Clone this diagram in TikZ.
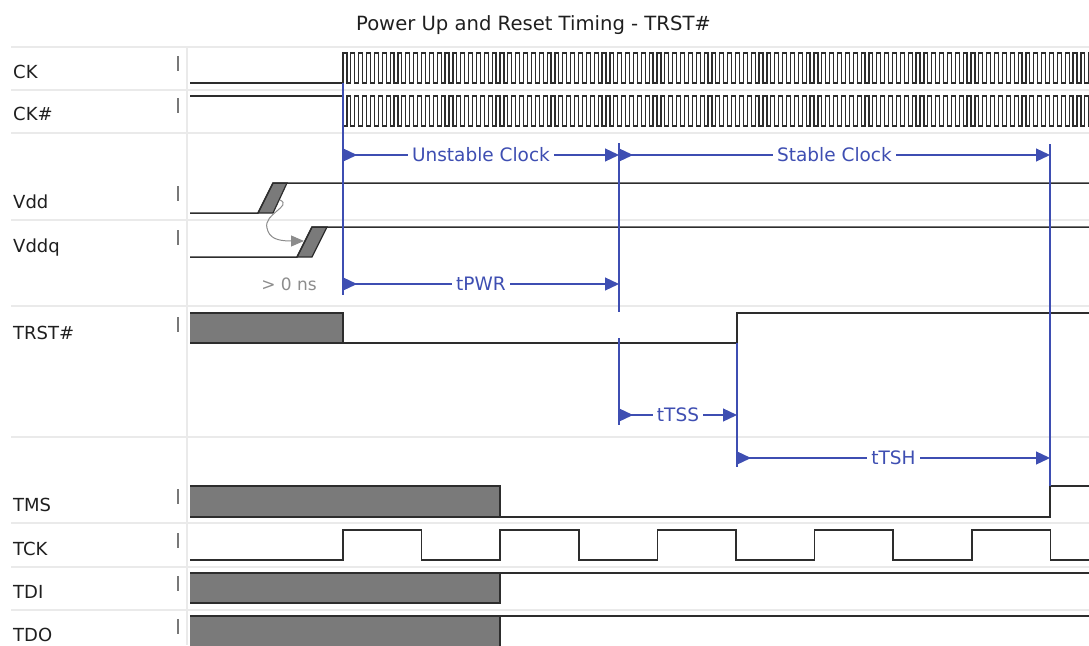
\documentclass[tikz,border=0pt]{standalone}
\usepackage{fontspec}
\setmainfont{DejaVu Sans}
\usetikzlibrary{arrows.meta}
\definecolor{blueA}{RGB}{62,78,178}
\definecolor{sig}{RGB}{45,45,45}
\definecolor{boxg}{RGB}{122,122,122}
\definecolor{gridc}{RGB}{234,234,234}
\definecolor{tickc}{RGB}{120,120,120}
\definecolor{annog}{RGB}{140,140,140}
\begin{document}
\begin{tikzpicture}[x=1pt,y=-1pt,
  sigline/.style={draw=sig,line width=1.5pt},
  clkline/.style={draw=sig,line width=1.2pt},
  edgeline/.style={draw=sig,line width=1.2pt},
  busbox/.style={fill=boxg},
  gridline/.style={draw=gridc,line width=1.6pt},
  tickmark/.style={draw=tickc,line width=1.4pt},
  lbl/.style={anchor=base west,font=\fontsize{18}{20}\selectfont,text=black!88,inner sep=0pt},
  guide/.style={draw=blueA,line width=1.2pt},
  dimarrow/.style={draw=blueA,line width=1.2pt,{Triangle[reversed,length=14pt,width=13pt]}-{Triangle[length=14pt,width=13pt]}},
  dimtext/.style={fill=white,text=blueA,inner xsep=4pt,inner ysep=1pt,font=\fontsize{18.5}{20}\selectfont}
]
\useasboundingbox (0,0) rectangle (1089,645);
\begin{scope}
\clip (0,0) rectangle (1089,645);
% title
\node[font=\fontsize{19.6}{22}\selectfont,anchor=base,text=black!88,inner sep=0pt] (title) at (533.5,30) {Power Up and Reset Timing - TRST\#};
% grid
\foreach \yy in {47,90,133,220,306,437,523,567,610}
  \draw[gridline] (11,\yy) -- (1089,\yy);
\draw[gridline] (187,47) -- (187,645);
% labels and ticks
\foreach \t/\name/\txt in {56/ck/CK,98/ckn/CK\#,186/vdd/Vdd,230/vddq/Vddq,317/trst/TRST\#,489/tms/TMS,533/tck/TCK,576/tdi/TDI,619/tdo/TDO}{
  \node[lbl] (lbl-\name) at (13,\t+22) {\txt};
  \draw[tickmark] (178,\t) -- (178,\t+15);
}
% CK and CK#
\draw[sigline] (190,83) -- (343,83);
\draw[sigline] (190,96) -- (343,96);
\draw[clkline] (343,83)
  \foreach \k in {1,...,96}{ -- ++(0,-30) -- ++(3.925,0) -- ++(0,30) -- ++(3.925,0)};
\draw[clkline] (343,96)
  \foreach \k in {1,...,96}{ -- ++(0,30) -- ++(3.925,0) -- ++(0,-30) -- ++(3.925,0)};
% Vdd
\fill[busbox] (258,213) -- (273,213) -- (287,183) -- (273,183) -- cycle;
\draw[edgeline] (258,213) -- (273,213) -- (287,183) -- (273,183) -- cycle;
\draw[sigline] (190,213) -- (258,213) -- (273,183) -- (1089,183);
% Vddq
\fill[busbox] (297,257) -- (312,257) -- (327,227) -- (312,227) -- cycle;
\draw[edgeline] (297,257) -- (312,257) -- (327,227) -- (312,227) -- cycle;
\draw[sigline] (190,257) -- (297,257) -- (312,227) -- (1089,227);
% dependency arrow
\coordinate (vddmid) at (280,200);
\coordinate (vddqin) at (304,241);
\draw[annog,line width=1pt,-{Triangle[length=13pt,width=11pt]}] (vddmid) .. controls (293,206) and (263,214) .. (267,228) .. controls (269,238) and (277,241) .. (vddqin);
\node[anchor=base east,text=annog,font=\fontsize{17}{20}\selectfont,inner sep=0pt] (gt0) at (317,290) {> 0 ns};
% TRST#
\fill[busbox] (190,313) rectangle (343,343);
\draw[sigline] (190,313) -- (343,313) -- (343,343);
\draw[sigline] (190,343) -- (737,343) -- (737,313) -- (1089,313);
% TMS
\fill[busbox] (190,486) rectangle (500,517);
\draw[sigline] (190,486) -- (500,486) -- (500,517);
\draw[sigline] (190,517) -- (1050,517) -- (1050,486) -- (1089,486);
% TCK
\draw[sigline] (190,560) -- (343,560)
  \foreach \k in {1,...,5}{ -- ++(0,-30) -- ++(78.6,0) -- ++(0,30) -- ++(78.6,0)};
% TDI
\fill[busbox] (190,573) rectangle (500,603);
\draw[sigline] (190,573) -- (1089,573);
\draw[sigline] (190,603) -- (500,603) -- (500,573);
% TDO
\fill[busbox] (190,616) rectangle (500,650);
\draw[sigline] (190,616) -- (1089,616);
\draw[sigline] (500,650) -- (500,616);
% blue guides
\coordinate (g1a) at (343,83);  \coordinate (g1b) at (343,295);
\coordinate (g2a) at (619,143); \coordinate (g2b) at (619,312);
\coordinate (g3a) at (619,338); \coordinate (g3b) at (619,425);
\coordinate (g4a) at (737,343); \coordinate (g4b) at (737,467);
\coordinate (g5a) at (1050,144); \coordinate (g5b) at (1050,486);
\draw[guide] (g1a) -- (g1b);
\draw[guide] (g2a) -- (g2b);
\draw[guide] (g3a) -- (g3b);
\draw[guide] (g4a) -- (g4b);
\draw[guide] (g5a) -- (g5b);
% dimension arrows
\coordinate (uc1) at (343,155); \coordinate (uc2) at (619,155); \coordinate (sc2) at (1050,155);
\coordinate (pw1) at (343,284); \coordinate (pw2) at (619,284);
\coordinate (ts1) at (619,415); \coordinate (ts2) at (737,415);
\coordinate (th1) at (737,458); \coordinate (th2) at (1050,458);
\draw[dimarrow] (uc1) -- (uc2) node[midway,dimtext] (unstable) {Unstable Clock};
\draw[dimarrow] (uc2) -- (sc2) node[midway,dimtext] (stable) {Stable Clock};
\draw[dimarrow] (pw1) -- (pw2) node[midway,dimtext] (tpwr) {tPWR};
\draw[dimarrow] (ts1) -- (ts2) node[midway,dimtext] (ttss) {tTSS};
\draw[dimarrow] (th1) -- (th2) node[midway,dimtext] (ttsh) {tTSH};
\end{scope}
\end{tikzpicture}
\end{document}
